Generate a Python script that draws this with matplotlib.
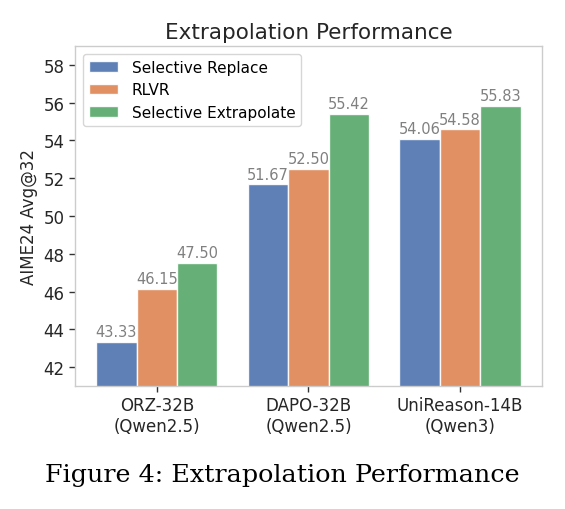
import numpy as np
from matplotlib import pyplot as plt

### data ###
models = ['ORZ-32B\n(Qwen2.5)', 'DAPO-32B\n(Qwen2.5)', 'UniReason-14B\n(Qwen3)']
methods = ['Selective Replace', 'RLVR', 'Selective Extrapolate']
selective_replace = [43.33, 51.67, 54.06]
rlvr = [46.15, 52.50, 54.58]
selective_extrapolate = [47.50, 55.42, 55.83]
colors = ['#4C72B0', '#DD8452', '#55A868']

### graph ###
fig = plt.figure(figsize=(5.65, 5.10), dpi=100)
ax = fig.add_axes([0.1327, 0.2412, 0.8265, 0.6667])

x = np.arange(len(models))
width = 0.8 / 3
series = [selective_replace, rlvr, selective_extrapolate]
for i, (vals, name, c) in enumerate(zip(series, methods, colors)):
    pos = x + (i - 1) * width
    bars = ax.bar(pos, vals, width, color=c, alpha=0.9, edgecolor='white',
                  linewidth=1, label=name)
    # value on top of each bar
    for b, v in zip(bars, vals):
        ax.text(b.get_x() + b.get_width() / 2, v + 0.15, f'{v:.2f}',
                ha='center', va='bottom', color='gray', fontsize=10.5)

ax.set_ylim(41, 59)
ax.set_yticks(np.arange(42, 59, 2))
ax.set_xticks(x)
ax.set_xticklabels(models, fontsize=12)
ax.tick_params(axis='y', labelsize=12)
ax.tick_params(colors='#333333', length=4, width=1)
ax.tick_params(axis='both', labelcolor='#262626')
for s in ax.spines.values():
    s.set_color('#cccccc')
    s.set_linewidth(1)

ax.set_ylabel('AIME24 Avg@32', fontsize=12, color='#262626')
ax.set_title('Extrapolation Performance', fontsize=15.5, color='#262626', pad=6)
ax.legend(loc='upper left', fontsize=11, handlelength=1.9, handletextpad=0.9,
          edgecolor='#cccccc')

fig.text(0.5, 0.068, 'Figure 4: Extrapolation Performance', ha='center',
         va='center', family='DejaVu Serif', fontsize=18.3)

plt.savefig('out.png', dpi=100)
